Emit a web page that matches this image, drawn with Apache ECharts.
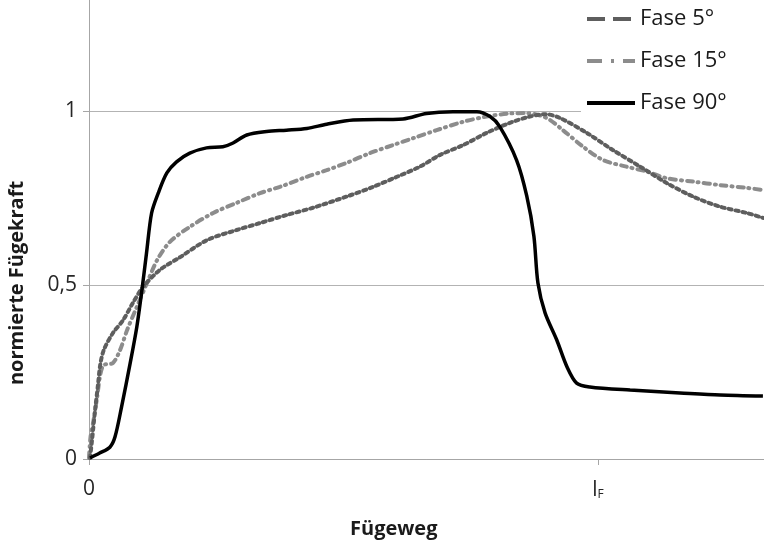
<!DOCTYPE html>
<html>
<head>
<meta charset="utf-8">
<script src="https://cdn.jsdelivr.net/npm/echarts@6/dist/echarts.min.js"></script>
<style>
html, body { margin: 0; padding: 0; background: #fff; }
#chart { width: 764px; height: 543px; }
</style>
</head>
<body>
<div id="chart"></div>
<script>
// normalised joining path (l_F = 1) vs normalised joining force
var seriesNames = ['Fase 5°', 'Fase 15°', 'Fase 90°'];
var xTickValues = [0, 1];
var xTickLabels = ['0', 'l_F'];
var yTickValues = [0, 0.5, 1];
var yTickLabels = ['0', '0,5', '1'];

var fase5 = [
    [0.002, 0.003], [0.006, 0.055], [0.012, 0.141], [0.018, 0.218], [0.022, 0.270],
    [0.029, 0.313], [0.047, 0.362], [0.067, 0.399], [0.086, 0.448], [0.106, 0.494],
    [0.139, 0.543], [0.179, 0.580], [0.232, 0.629], [0.290, 0.658], [0.336, 0.678],
    [0.388, 0.701], [0.440, 0.722], [0.506, 0.754], [0.558, 0.782], [0.605, 0.811],
    [0.650, 0.840], [0.690, 0.874], [0.735, 0.902], [0.781, 0.937], [0.827, 0.966],
    [0.866, 0.984], [0.896, 0.991], [0.925, 0.980], [0.978, 0.937], [1.029, 0.888],
    [1.083, 0.840], [1.135, 0.793], [1.187, 0.754], [1.240, 0.725], [1.292, 0.707],
    [1.324, 0.693]
];

var fase15 = [
    [0.000, 0.003], [0.003, 0.063], [0.009, 0.112], [0.016, 0.178], [0.022, 0.241],
    [0.029, 0.270], [0.047, 0.276], [0.061, 0.313], [0.075, 0.371], [0.094, 0.437],
    [0.114, 0.506], [0.134, 0.572], [0.159, 0.624], [0.198, 0.667], [0.244, 0.707],
    [0.290, 0.736], [0.336, 0.764], [0.375, 0.782], [0.428, 0.811], [0.467, 0.830],
    [0.506, 0.851], [0.552, 0.879], [0.597, 0.902], [0.637, 0.922], [0.683, 0.945],
    [0.735, 0.969], [0.781, 0.984], [0.827, 0.993], [0.860, 0.994], [0.899, 0.980],
    [0.931, 0.945], [0.971, 0.897], [1.010, 0.859], [1.056, 0.840], [1.096, 0.826],
    [1.135, 0.807], [1.187, 0.797], [1.240, 0.787], [1.292, 0.779], [1.324, 0.773]
];

var fase90 = [
    [0.002, 0.003], [0.021, 0.017], [0.041, 0.034], [0.051, 0.063], [0.064, 0.150],
    [0.081, 0.276], [0.094, 0.380], [0.104, 0.486], [0.113, 0.592], [0.123, 0.707],
    [0.136, 0.764], [0.153, 0.822], [0.172, 0.854], [0.198, 0.879], [0.231, 0.894],
    [0.263, 0.897], [0.283, 0.908], [0.310, 0.931], [0.349, 0.941], [0.388, 0.945],
    [0.428, 0.950], [0.467, 0.962], [0.519, 0.974], [0.617, 0.977], [0.663, 0.993],
    [0.715, 0.998], [0.762, 0.998], [0.788, 0.984], [0.807, 0.955], [0.840, 0.859],
    [0.860, 0.756], [0.874, 0.641], [0.882, 0.506], [0.896, 0.420], [0.919, 0.342],
    [0.939, 0.265], [0.958, 0.218], [0.984, 0.207], [1.063, 0.198], [1.161, 0.190],
    [1.240, 0.184], [1.324, 0.181]
];

var font = '"Open Sans", "Noto Sans", sans-serif';
var chart = echarts.init(document.getElementById('chart'));

var option = {
    animation: false,
    backgroundColor: '#fff',
    textStyle: { fontFamily: font },
    grid: {
        left: 89,
        right: -88.5,
        top: -63,
        bottom: 84,
        containLabel: false,
        outerBoundsMode: 'none'
    },
    legend: {
        orient: 'vertical',
        left: 581,
        top: 0,
        padding: [8, 40, 4, 4],
        backgroundColor: '#fff',
        itemWidth: 48,
        itemHeight: 14,
        itemGap: 20,
        textStyle: { fontSize: 22, color: '#1a1a1a', fontFamily: font },
        data: [
            { name: seriesNames[0], itemStyle: { opacity: 0 }, lineStyle: { type: [18, 8], width: 4, cap: 'butt' } },
            { name: seriesNames[1], itemStyle: { opacity: 0 }, lineStyle: { type: [15, 9, 3, 9], width: 4, cap: 'butt' } },
            { name: seriesNames[2], itemStyle: { opacity: 0 }, lineStyle: { type: 'solid', width: 4 } }
        ]
    },
    xAxis: {
        type: 'value',
        min: 0,
        max: 1.5,
        interval: 1,
        name: 'Fügeweg',
        nameLocation: 'middle',
        nameGap: 60,
        nameTextStyle: { fontSize: 20, fontWeight: 'bold', color: '#1a1a1a', padding: [0, 154, 0, 0] },
        axisLine: { show: true, lineStyle: { color: '#a6a6a6', width: 1 } },
        axisTick: { show: true, length: 6, lineStyle: { color: '#a6a6a6' } },
        splitLine: { show: false },
        axisLabel: {
            margin: 20,
            fontSize: 21,
            color: '#262626',
            formatter: function (v) {
                var i = xTickValues.indexOf(v);
                if (i < 0) return '';
                var t = xTickLabels[i];
                if (t.indexOf('_') > 0) {
                    var p = t.split('_');
                    return '{b|' + p[0] + '}{s|' + p[1] + '}';
                }
                return t;
            },
            rich: {
                b: { fontSize: 21, color: '#262626', fontFamily: font, verticalAlign: 'bottom' },
                s: { fontSize: 12, color: '#262626', fontFamily: font, padding: [10, 0, 0, 0], verticalAlign: 'bottom' }
            }
        }
    },
    yAxis: {
        type: 'value',
        min: 0,
        max: 1.5,
        interval: 0.5,
        name: 'normierte Fügekraft',
        nameLocation: 'middle',
        nameGap: 62,
        nameTextStyle: { fontSize: 20, fontWeight: 'bold', color: '#1a1a1a', padding: [0, 170, 0, 0] },
        axisLine: { show: true, lineStyle: { color: '#a6a6a6', width: 1 } },
        axisTick: { show: true, length: 6, lineStyle: { color: '#a6a6a6' } },
        splitLine: { show: true, lineStyle: { color: '#b3b3b3', width: 1 } },
        axisLabel: {
            margin: 12,
            fontSize: 21,
            color: '#262626',
            formatter: function (v) {
                var i = yTickValues.indexOf(v);
                return i < 0 ? '' : yTickLabels[i];
            }
        }
    },
    series: [
        {
            name: seriesNames[0],
            type: 'line',
            data: fase5,
            showSymbol: false,
            symbol: 'none',
            smooth: 0.3,
            color: '#5e5e5e',
            lineStyle: { color: '#5e5e5e', width: 4, type: [3, 4], cap: 'round' },
            z: 3
        },
        {
            name: seriesNames[1],
            type: 'line',
            data: fase15,
            showSymbol: false,
            symbol: 'none',
            smooth: 0.3,
            color: '#8c8c8c',
            lineStyle: { color: '#8c8c8c', width: 4, type: [6, 5, 1, 5], cap: 'round' },
            z: 2
        },
        {
            name: seriesNames[2],
            type: 'line',
            data: fase90,
            showSymbol: false,
            symbol: 'none',
            smooth: 0.3,
            color: '#000',
            lineStyle: { color: '#000', width: 3.5 },
            z: 4
        }
    ]
};

chart.setOption(option);
</script>
</body>
</html>
